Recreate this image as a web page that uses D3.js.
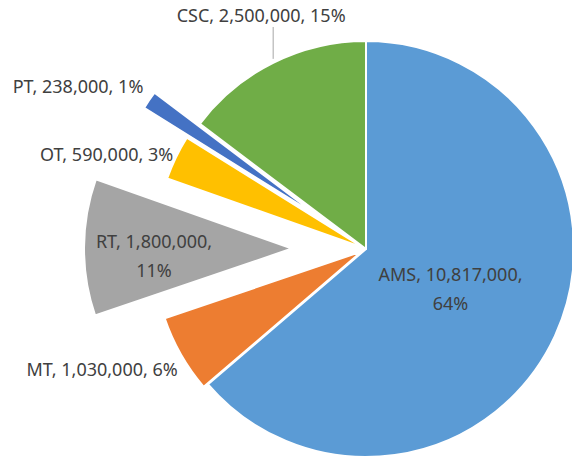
<!DOCTYPE html>
<html>
<head>
<meta charset="utf-8">
<script src="https://cdn.jsdelivr.net/npm/d3@7"></script>
<style>
  body { margin: 0; background: #fff; }
  text { font-family: "Noto Sans", sans-serif; font-size: 18px; fill: #404040; }
</style>
</head>
<body>
<div id="chart"></div>
<script>
const categories = ["AMS", "MT", "RT", "OT", "PT", "CSC"];
const values = [10817000, 1030000, 1800000, 590000, 238000, 2500000];
const colors = ["#5b9bd5", "#ed7d31", "#a5a5a5", "#ffc000", "#4472c4", "#70ad47"];

// how far each slice is pulled out, and where its label sits (polar from the slice mid angle)
const explode = {AMS: 0, MT: 5, RT: 74, OT: 3, PT: 55, CSC: 0};
const labelSpec = {
  AMS: {r: 93, anchor: "middle", dx: 0, dy: -7, wrap: true},
  MT:  {r: 222, anchor: "end", dx: 9, dy: 15},
  RT:  {r: 138, anchor: "middle", dx: 0, dy: 0, wrap: true},
  OT:  {r: 212, anchor: "end", dx: 1, dy: 5},
  PT:  {r: 215, anchor: "end", dx: 0, dy: -3},
  CSC: {r: 208, anchor: "middle", dx: -12, dy: 0, leader: true}
};

const width = 572, height = 460;
const cx = 366, cy = 249, radius = 208;

const svg = d3.select("#chart")
  .append("svg")
    .attr("width", width)
    .attr("height", height);

const g = svg.append("g")
  .attr("transform", `translate(${cx},${cy})`);

const data = categories.map((c, i) => ({name: c, value: values[i], color: colors[i]}));
const total = d3.sum(values);
const fmtNum = d3.format(",");
const fmtPct = d3.format(".0%");

const pie = d3.pie()
  .sort(null)
  .value(d => d.value);

const arc = d3.arc()
  .innerRadius(0)
  .outerRadius(radius);

const arcs = pie(data);

const mid = d => (d.startAngle + d.endAngle) / 2;
const polar = (a, r) => [Math.sin(a) * r, -Math.cos(a) * r];

g.selectAll("path.slice")
  .data(arcs)
  .join("path")
    .attr("class", "slice")
    .attr("d", arc)
    .attr("transform", d => {
      const [x, y] = polar(mid(d), explode[d.data.name]);
      return `translate(${x},${y})`;
    })
    .attr("fill", d => d.data.color)
    .attr("stroke", "#fff")
    .attr("stroke-width", 2)
    .attr("stroke-linejoin", "round");

// leader line for the CSC label
arcs.filter(d => labelSpec[d.data.name].leader).forEach(d => {
  const [x, y] = polar(mid(d), radius);
  g.append("line")
    .attr("x1", x).attr("y1", y - 4)
    .attr("x2", x).attr("y2", 27 - cy)
    .attr("stroke", "#a6a6a6")
    .attr("stroke-width", 1);
});

g.selectAll("text.lbl")
  .data(arcs)
  .join("text")
    .attr("class", "lbl")
    .attr("text-anchor", d => labelSpec[d.data.name].anchor)
    .each(function(d) {
      const s = labelSpec[d.data.name];
      const name = d.data.name;
      const pct = fmtPct(d.data.value / total);
      let [x, y] = polar(mid(d), s.r + explode[name]);
      if (s.leader) { x = x + s.dx; y = 22 - cy; }
      else { x += s.dx; y += s.dy; }
      const t = d3.select(this);
      if (s.wrap) {
        t.append("tspan").attr("x", x).attr("y", y)
          .text(`${name}, ${fmtNum(d.data.value)},`);
        t.append("tspan").attr("x", x).attr("y", y + 29)
          .text(pct);
      } else {
        t.attr("x", x).attr("y", y)
          .text(`${name}, ${fmtNum(d.data.value)}, ${pct}`);
      }
    });
</script>
</body>
</html>
